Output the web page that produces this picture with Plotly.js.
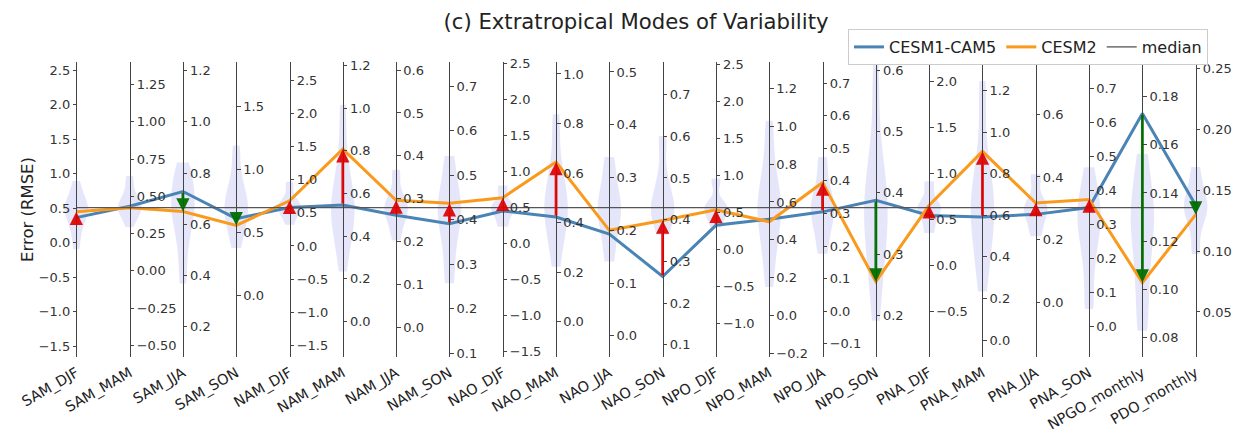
<!DOCTYPE html>
<html><head><meta charset="utf-8">
<script src="https://cdn.plot.ly/plotly-3.0.1.min.js"></script>
<style>body{margin:0;background:#fff}#chart{width:1243px;height:433px}</style>
</head><body><div id="chart"></div>
<script>
// ---- data ----
const categories = ["SAM_DJF","SAM_MAM","SAM_JJA","SAM_SON","NAM_DJF","NAM_MAM","NAM_JJA","NAM_SON",
  "NAO_DJF","NAO_MAM","NAO_JJA","NAO_SON","NPO_DJF","NPO_MAM","NPO_JJA","NPO_SON",
  "PNA_DJF","PNA_MAM","PNA_JJA","PNA_SON","NPGO_monthly","PDO_monthly"];
const cesm1 = [0.365,0.433,0.728,0.606,0.582,0.546,0.261,0.391,0.453,0.423,0.193,0.264,
  0.329,0.509,0.305,0.388,0.544,0.592,0.281,0.350,0.173,0.1377];
const cesm2 = [0.451,0.423,0.650,0.553,0.682,0.808,0.296,0.437,0.638,0.645,0.200,0.398,
  0.540,0.495,0.395,0.255,0.654,0.907,0.317,0.374,0.1027,0.130];
const medians = [0.51,0.424,0.665,0.694,0.579,0.534,0.279,0.427,0.5,0.461,0.243,0.429,
  0.568,0.570,0.318,0.376,0.629,0.637,0.3025,0.350,0.1339,0.1358];
// estimated ensemble values (violins)
const ensemble = [
  [-0.05,0.2,0.35,0.45,0.5,0.55,0.65,0.85],
  [0.31,0.38,0.41,0.43,0.46,0.52,0.62],
  [0.39,0.52,0.6,0.65,0.68,0.72,0.78,0.82],
  [0.41,0.55,0.65,0.7,0.78,0.9,1.15],
  [0.35,0.5,0.57,0.6,0.7,0.94],
  [0.27,0.4,0.48,0.52,0.56,0.62,0.75,0.98],
  [0.21,0.25,0.27,0.285,0.3,0.36],
  [0.27,0.35,0.4,0.43,0.46,0.53],
  [0.26,0.42,0.5,0.55,0.78],
  [0.25,0.37,0.43,0.47,0.52,0.62,0.81],
  [0.15,0.2,0.23,0.25,0.28,0.33],
  [0.375,0.41,0.43,0.45,0.5,0.59],
  [0.33,0.48,0.56,0.62,0.93],
  [0.19,0.38,0.5,0.57,0.62,0.75,0.99],
  [0.19,0.26,0.3,0.33,0.37,0.46],
  [0.21,0.28,0.33,0.36,0.38,0.41,0.46,0.59],
  [0.38,0.55,0.62,0.68,0.89],
  [0.28,0.45,0.58,0.64,0.7,0.85,1.2],
  [0.22,0.27,0.3,0.32,0.4],
  [0.07,0.2,0.28,0.33,0.36,0.45],
  [0.086,0.105,0.12,0.13,0.137,0.153],
  [0.101,0.125,0.133,0.14,0.148,0.166]
];
// ---- axis layout (per-axis scale) ----
const axisSpan = [4.275,1.98,1.152,2.34,4.456,1.382,0.689,0.663,4.097,1.19,0.559,0.707,
  3.986,1.561,0.905,0.482,3.2,1.418,0.939,0.87,0.1227,0.2426];
const axisDtick = [0.5,0.25,0.2,0.5,0.5,0.2,0.1,0.1,0.5,0.2,0.1,0.1,0.5,0.2,0.1,0.1,0.5,0.2,0.2,0.1,0.02,0.05];
const axisFormat = [".1f",".2f",".1f",".1f",".1f",".1f",".1f",".1f",".1f",".1f",".1f",".1f",
  ".1f",".1f",".1f",".1f",".1f",".1f",".1f",".1f",".2f",".2f"];

const N = categories.length;
const pBelow = 0.5064;
const lo = medians.map((m,i)=> m - axisSpan[i]*pBelow);
const hi = medians.map((m,i)=> m + axisSpan[i]*(1-pBelow));
const norm = (v,i) => (v - lo[i])/(hi[i]-lo[i]);
const xs = categories.map((_,i)=>i);
const X0 = -0.4, X1 = N - 1 + 0.4;
const FONT = 'DejaVu Sans';

const traces = [];
ensemble.forEach((s,i)=>{
  const ys = s.map(v=>norm(v,i));
  const mn = Math.min(...ys), mx = Math.max(...ys), r = mx-mn;
  traces.push({type:'violin', x: ys.map(()=>i), y: ys, width:0.44, scalemode:'width',
    fillcolor:'rgba(185,185,240,0.36)', line:{width:0, color:'rgba(0,0,0,0)'},
    points:false, hoverinfo:'skip', showlegend:false, bandwidth: r/6,
    spanmode:'manual', span:[mn - 0.05*r, mx + 0.05*r], xaxis:'x', yaxis:'y'});
});
traces.push({type:'scatter', mode:'lines', name:'CESM1-CAM5', x: xs, y: cesm1.map(norm),
  line:{color:'#4a84b5', width:3}, xaxis:'x', yaxis:'y'});
traces.push({type:'scatter', mode:'lines', name:'CESM2', x: xs, y: cesm2.map(norm),
  line:{color:'#fa9a1c', width:3}, xaxis:'x', yaxis:'y'});
traces.push({type:'scatter', mode:'lines', name:'median', x: xs, y: medians.map(norm),
  line:{color:'#555', width:1.3}, xaxis:'x', yaxis:'y'});

const annotations = xs.map(i=>{
  const up = cesm2[i] > cesm1[i];
  return {x:i, y:norm(cesm2[i],i), ax:i, ay:norm(cesm1[i],i), xref:'x', yref:'y', axref:'x', ayref:'y',
    text:'', showarrow:true, arrowhead:2, arrowsize:0.95, arrowwidth:2.8, standoff:0,
    arrowcolor: up ? 'rgba(222,0,0,0.92)' : 'rgba(0,110,0,0.95)'};
});

const layout = {
  width:1243, height:433, paper_bgcolor:'#fff', plot_bgcolor:'#fff',
  margin:{l:55, r:26, t:62, b:76},
  font:{family:FONT, color:'#333'},
  showlegend:true, violinmode:'overlay',
  title:{text:'(c) Extratropical Modes of Variability', font:{family:FONT, size:21.2, color:'#222'},
    x:0.5, xref:'paper', xanchor:'center', y:1-22/433, yref:'container', yanchor:'middle'},
  legend:{orientation:'h', x:(848-55)/1162, y:1+(62-29)/295, xanchor:'left', yanchor:'top',
    bgcolor:'#fff', bordercolor:'#ccc', borderwidth:1, itemwidth:30, tracegroupgap:0,
    font:{family:FONT, size:16, color:'#222'}},
  xaxis:{range:[X0,X1], tickvals:xs, ticktext:categories, tickangle:-30, showline:false, showgrid:false,
    zeroline:false, ticks:'', ticklabelstandoff:4, tickfont:{family:FONT, size:14.5, color:'#222'}, fixedrange:true},
  yaxis:{range:[0,1], visible:false, fixedrange:true},
  annotations: annotations
};
xs.forEach(i=>{
  const ax = {overlaying:'y', anchor:'free', position:(i - X0)/(X1 - X0), range:[lo[i],hi[i]],
    side: i===0 ? 'left':'right', showline:true, linecolor:'#444', linewidth:1,
    ticks:'outside', ticklen:3.5, tickcolor:'#444', tickwidth:1, tick0:0, dtick:axisDtick[i],
    tickformat:axisFormat[i], showgrid:false, zeroline:false, automargin:false,
    tickfont:{family:FONT, size:13, color:'#333'}, fixedrange:true};
  if (i===0) ax.title = {text:'Error (RMSE)', font:{family:FONT, size:16.5, color:'#222'}};
  layout['yaxis'+(i+2)] = ax;
});
// invisible anchor traces so every overlay axis renders
xs.forEach(i=>{
  traces.push({type:'scatter', mode:'markers', x:[i], y:[medians[i]], yaxis:'y'+(i+2),
    marker:{opacity:0}, hoverinfo:'skip', showlegend:false});
});
Plotly.newPlot('chart', traces, layout, {displayModeBar:false, staticPlot:true});
</script></body></html>
